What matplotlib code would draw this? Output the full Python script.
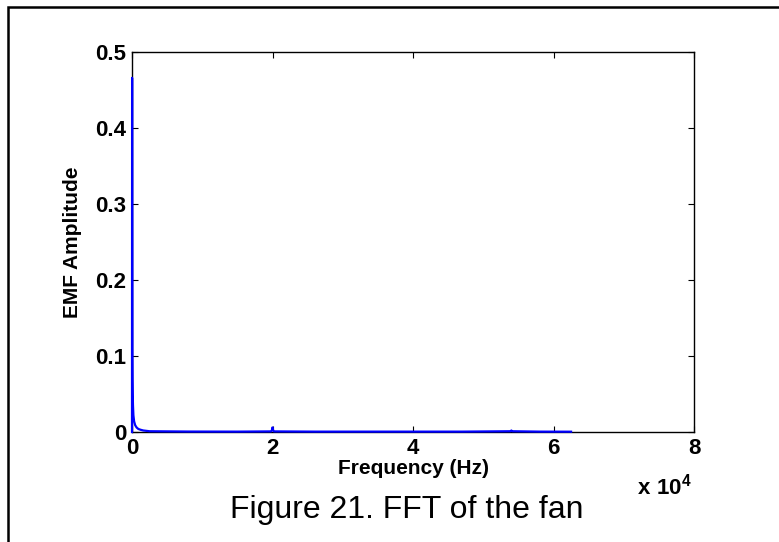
import matplotlib
matplotlib.use("Agg")
import matplotlib.pyplot as plt
from matplotlib.patches import Rectangle

# spectrum (Hz, amplitude)
freq = [0, 15, 25, 45, 70, 100, 140, 200, 300, 450, 650, 900, 1200, 1600, 2500,
        8000, 15000, 19800, 19950, 20000, 20050, 20200, 26000, 33000, 40000,
        47000, 53900, 54000, 54100, 58000, 62500]
amp = [0.0, 0.466, 0.30, 0.11, 0.07, 0.05, 0.035, 0.022, 0.014, 0.009, 0.006,
       0.004, 0.003, 0.002, 0.001,
       0.0006, 0.0005, 0.0008, 0.003, 0.006, 0.003, 0.0008, 0.0005, 0.0005, 0.0005,
       0.0005, 0.001, 0.002, 0.001, 0.0005, 0.0004]

xticks = [0, 20000, 40000, 60000, 80000]
xtick_labels = ['0', '2', '4', '6', '8']
yticks = [0, 0.1, 0.2, 0.3, 0.4, 0.5]
ytick_labels = ['0', '0.1', '0.2', '0.3', '0.4', '0.5']

plt.rcParams['font.family'] = ['Liberation Sans', 'DejaVu Sans']
plt.rcParams['mathtext.fontset'] = 'custom'
plt.rcParams['mathtext.rm'] = 'Liberation Sans'
plt.rcParams['mathtext.bf'] = 'Liberation Sans:bold'

fig = plt.figure(figsize=(7.79, 5.42), dpi=100)
ax = fig.add_axes([132 / 779, 1 - 432 / 542, 562 / 779, 380 / 542])

ax.plot(freq, amp, color='#0000ff', lw=1.6, zorder=3, clip_on=False)
ax.set_xlim(0, 80000)
ax.set_ylim(0, 0.5)
ax.set_xticks(xticks)
ax.set_xticklabels(xtick_labels)
ax.set_yticks(yticks)
ax.set_yticklabels(ytick_labels)
ax.tick_params(direction='in', length=4, width=0.8, top=True, right=True,
               labelsize=16, pad=4)
for lab in ax.get_xticklabels() + ax.get_yticklabels():
    lab.set_fontweight('bold')
for s in ax.spines.values():
    s.set_linewidth(1.0)

ax.set_xlabel('Frequency (Hz)', fontsize=15, fontweight='bold', labelpad=0)
ax.set_ylabel('EMF Amplitude', fontsize=15, fontweight='bold', labelpad=10)
fig.text(665 / 779, 1 - 487 / 542, r'$\mathbf{x\ 10^{4}}$', fontsize=16,
         ha='center', va='center')

fig.text(407 / 779, 1 - 510 / 542, 'Figure 21. FFT of the fan', fontsize=23,
         ha='center', va='center')

# outer frame (only top and left edges visible)
fig.add_artist(Rectangle((8 / 779, -0.2), 1.2, 1 - 7 / 542 + 0.2,
                         transform=fig.transFigure, fill=False,
                         edgecolor='black', lw=1.8))

fig.savefig('out.png', dpi=100)
